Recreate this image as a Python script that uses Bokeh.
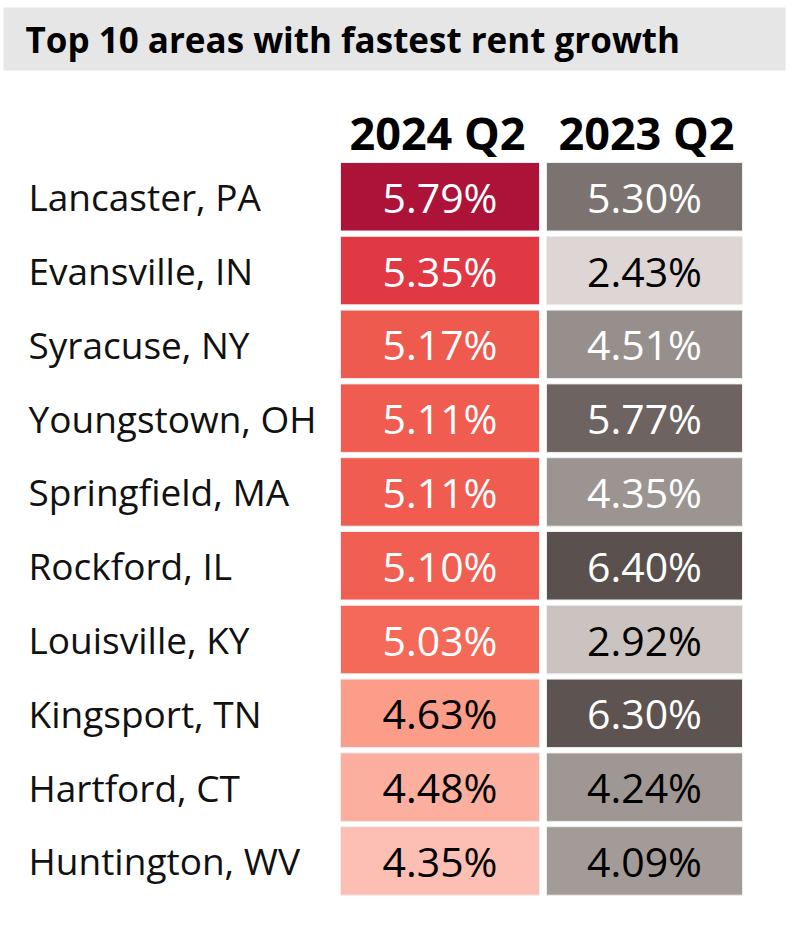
from bokeh.plotting import figure
from bokeh.models import Range1d, ColumnDataSource
from bokeh.core.properties import value
from bokeh.embed import file_html
from bokeh.resources import INLINE

title = "Top 10 areas with fastest rent growth"
columns = ["2024 Q2", "2023 Q2"]
cities = ["Lancaster, PA", "Evansville, IN", "Syracuse, NY", "Youngstown, OH",
          "Springfield, MA", "Rockford, IL", "Louisville, KY", "Kingsport, TN",
          "Hartford, CT", "Huntington, WV"]
growth_2024 = [5.79, 5.35, 5.17, 5.11, 5.11, 5.10, 5.03, 4.63, 4.48, 4.35]
growth_2023 = [5.30, 2.43, 4.51, 5.77, 4.35, 6.40, 2.92, 6.30, 4.24, 4.09]
colors_2024 = ["#ad1238", "#e03943", "#ef5a4e", "#f05c50", "#f05c50",
               "#f05f52", "#f46957", "#fc9d8a", "#fdaf9f", "#fdbfb3"]
colors_2023 = ["#7b7370", "#ddd6d4", "#978f8c", "#6d6461", "#9c9491",
               "#5a504d", "#cbc3c0", "#5d5350", "#9f9794", "#a39b98"]
text_2024 = ["white"] * 7 + ["black"] * 3
text_2023 = ["white", "black", "white", "white", "white", "white", "black",
             "white", "black", "black"]

W, H = 786, 914
FONT = "Open Sans"

p = figure(width=W, height=H, output_backend="svg", toolbar_location=None,
           x_range=Range1d(0, W), y_range=Range1d(H, 0), min_border=0)
p.axis.visible = False
p.grid.visible = False
p.outline_line_color = None
p.background_fill_color = "white"
p.border_fill_color = "white"

# title band
p.quad(left=3, right=785, top=7, bottom=70, fill_color="#e6e6e6", line_color=None)
p.text(x=[25], y=[39], text=[title], text_font=value(FONT), text_font_style="bold",
       text_font_size="35px", text_baseline="middle", text_align="left", text_color="black")

# layout
row_top = 162
pitch = 73.8
cell_h = 68.5
col_centers = [439.5, 644]
col_widths = [199, 196]

n = len(cities)
yc = [row_top + i * pitch + cell_h / 2 for i in range(n)]

# headers
p.text(x=[437, 646], y=[132, 132], text=columns, text_font=value(FONT),
       text_font_style="bold", text_font_size="45px", text_baseline="middle",
       text_align="center", text_color="black")

# labels
p.text(x=[28] * n, y=yc, text=cities, text_font=value(FONT), text_font_size="37px",
       text_baseline="middle", text_align="left", text_color="#111111")

for ci, (vals, cols, tcols) in enumerate([(growth_2024, colors_2024, text_2024),
                                          (growth_2023, colors_2023, text_2023)]):
    src = ColumnDataSource(dict(
        x=[col_centers[ci]] * n, y=yc, c=cols, tc=tcols,
        t=[f"{v:.2f}%" for v in vals]))
    p.rect(x="x", y="y", width=col_widths[ci], height=cell_h, fill_color="c",
           line_color="#eeeeee", line_width=1, source=src)
    p.text(x="x", y="y", text="t", text_color="tc", text_font=value(FONT),
           text_font_size="41px", text_baseline="middle", text_align="center", source=src)

open("out.html", "w").write(file_html(p, INLINE))
